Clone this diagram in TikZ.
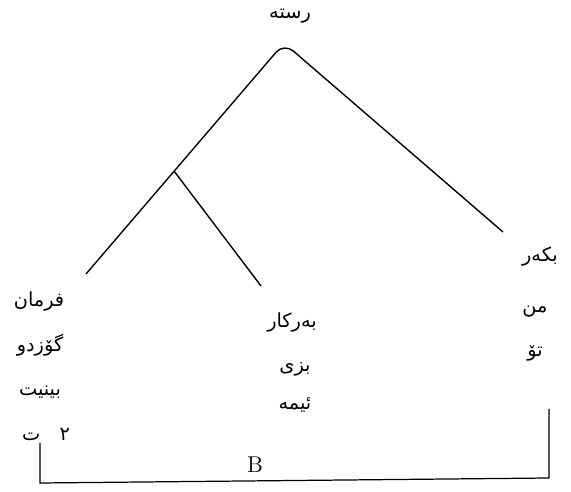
\documentclass[tikz,border=0pt]{standalone}
\usepackage{fontspec}
\newfontfamily\arabicfont[Script=Arabic]{DejaVu Sans}
\TeXXeTstate=1
\usetikzlibrary{positioning}
\tikzset{
  word/.style  ={font=\arabicfont\fontsize{11}{13}\selectfont, inner sep=1pt},
  letter/.style={font=\fontsize{13}{15}\selectfont, inner sep=1pt},
  branch/.style={-, black, line width=0.8pt},
  brace/.style ={-, black, line width=0.7pt},
}

\begin{document}
\begin{tikzpicture}[x=0.02cm, y=-0.02cm]
\useasboundingbox (0,0) rectangle (571,492);

% root and tree
\node[word] (S) at (290,16) {\beginR رستە\endR};
\coordinate (apex) at (284,43);
\coordinate (fork) at (174,171);
\coordinate (vEnd) at (86,274);
\coordinate (oEnd) at (261,286);
\coordinate (sEnd) at (503,232);
\draw[branch, rounded corners=7pt] (vEnd) -- (apex) -- (sEnd);
\draw[branch] (fork) -- (oEnd);

% verb column
\node[word] (V1) at (39,302) {\beginR فرمان\endR};
\node[word] (V2) at (40,345) {\beginR گۆزدو\endR};
\node[word] (V3) at (40,392) {\beginR بینیت\endR};
\node[word] (V4) at (46,434) {\beginR ٢\quad ت\endR};

% object column
\node[word] (O1) at (292,323) {\beginR بەرکار\endR};
\node[word] (O2) at (295,369) {\beginR بزی\endR};
\node[word] (O3) at (295,405) {\beginR ئیمە\endR};

% subject column
\node[word] (S1) at (540,257) {\beginR بکەر\endR};
\node[word] (S2) at (535,312) {\beginR من\endR};
\node[word] (S3) at (535,353) {\beginR تۆ\endR};

% bracket
\coordinate (bL) at (40,443);
\coordinate (bLlow) at (40,483);
\coordinate (bRlow) at (549,478);
\coordinate (bR) at (549,409);
\draw[brace] (bL) -- (bLlow) -- (bRlow) -- (bR);
\node[letter] (B) at (255,465) {B};

\end{tikzpicture}
\end{document}
